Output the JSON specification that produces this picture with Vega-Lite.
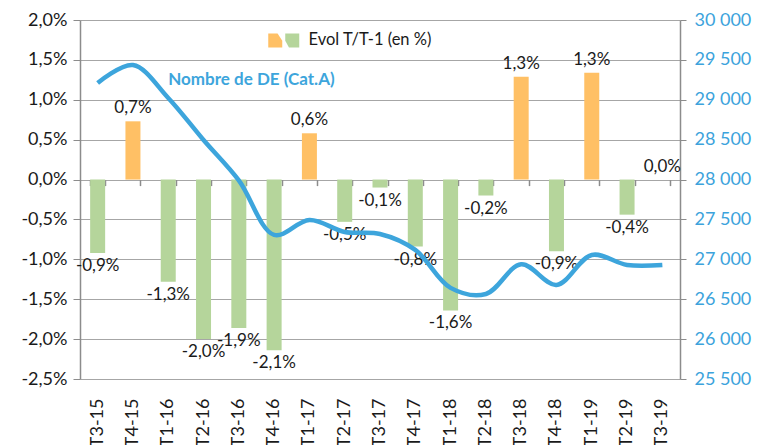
{
  "$schema": "https://vega.github.io/schema/vega-lite/v6.json",
  "width": 600,
  "height": 359,
  "autosize": "none",
  "padding": {"left": 80, "top": 20, "right": 80, "bottom": 66},
  "background": "white",
  "config": {
    "locale": {"number": {"decimal": ",", "thousands": " ", "grouping": [3], "currency": ["", " €"], "minus": "-"}},
    "view": {"stroke": null},
    "font": "Lato",
    "axis": {"labelFont": "Lato", "domainColor": "#8c8c8c", "tickColor": "#8c8c8c", "gridColor": "#a6a6a6"},
    "legend": {"labelFont": "Lato"}
  },
  "data": {
    "values": [
      {"t": "T3-15", "evol": -0.0092, "de": 29211, "sens": "hausse_baisse_b"},
      {"t": "T4-15", "evol": 0.0073, "de": 29436, "sens": "hausse_baisse_a"},
      {"t": "T1-16", "evol": -0.0128, "de": 29023, "sens": "hausse_baisse_b"},
      {"t": "T2-16", "evol": -0.0200, "de": 28496, "sens": "hausse_baisse_b"},
      {"t": "T3-16", "evol": -0.0186, "de": 27990, "sens": "hausse_baisse_b"},
      {"t": "T4-16", "evol": -0.0214, "de": 27306, "sens": "hausse_baisse_b"},
      {"t": "T1-17", "evol": 0.0058, "de": 27494, "sens": "hausse_baisse_a"},
      {"t": "T2-17", "evol": -0.0053, "de": 27343, "sens": "hausse_baisse_b"},
      {"t": "T3-17", "evol": -0.0010, "de": 27318, "sens": "hausse_baisse_b"},
      {"t": "T4-17", "evol": -0.0084, "de": 27118, "sens": "hausse_baisse_b"},
      {"t": "T1-18", "evol": -0.0164, "de": 26642, "sens": "hausse_baisse_b"},
      {"t": "T2-18", "evol": -0.0020, "de": 26566, "sens": "hausse_baisse_b"},
      {"t": "T3-18", "evol": 0.0129, "de": 26938, "sens": "hausse_baisse_a"},
      {"t": "T4-18", "evol": -0.0090, "de": 26679, "sens": "hausse_baisse_b"},
      {"t": "T1-19", "evol": 0.0134, "de": 27055, "sens": "hausse_baisse_a"},
      {"t": "T2-19", "evol": -0.0044, "de": 26930, "sens": "hausse_baisse_b"},
      {"t": "T3-19", "evol": 0.0000, "de": 26930, "sens": "hausse_baisse_a"}
    ]
  },
  "layer": [
    {
      "encoding": {
        "x": {
          "field": "t", "type": "ordinal", "sort": null,
          "scale": {"paddingInner": 0.575, "paddingOuter": 0.2875},
          "axis": {"orient": "bottom", "title": null, "labelAngle": -90, "labelFontSize": 18, "labelColor": "#1a1a1a", "labelPadding": 19, "ticks": false, "domain": false}
        },
        "y": {
          "field": "evol", "type": "quantitative",
          "scale": {"domain": [-0.025, 0.02], "nice": false, "zero": false},
          "axis": {"orient": "left", "title": null, "values": [-0.025, -0.02, -0.015, -0.01, -0.005, 0, 0.005, 0.01, 0.015, 0.02], "format": ".1%", "labelFontSize": 18, "labelColor": "#1a1a1a", "tickSize": 7, "labelPadding": 6, "grid": true, "gridWidth": 1.2, "domainWidth": 1.5}
        }
      },
      "layer": [
        {
          "mark": {"type": "bar"},
          "encoding": {
            "color": {
              "field": "sens", "type": "nominal",
              "scale": {"domain": ["hausse_baisse_a", "hausse_baisse_b"], "range": ["#FFC065", "#B5D59B"]},
              "legend": {
                "orient": "none", "legendX": 187, "legendY": 12, "direction": "horizontal", "title": null,
                "symbolSize": 196, "symbolStrokeWidth": 0, "columnPadding": 0, "labelOffset": 0,
                "labelFontSize": 16.5, "labelColor": "#1a1a1a",
                "labelExpr": "datum.value === 'hausse_baisse_a' ? '' : 'Evol T/T-1 (en %)'",
                "encode": {
                  "symbols": {"update": {"shape": {"signal": "datum.value === 'hausse_baisse_a' ? 'M-1,-1L0.333,-1L1,0.05L1,1L-1,1Z' : 'M-1,-1L1,-1L1,1L-0.467,1L-1,0.05Z'"}}},
                  "labels": {"update": {"dx": {"signal": "datum.value === 'hausse_baisse_a' ? 0 : 8"}}}
                }
              }
            }
          }
        },
        {
          "transform": [{"filter": "datum.evol >= 0"}],
          "mark": {"type": "text", "baseline": "bottom", "dy": -4, "fontSize": 17, "color": "#1a1a1a"},
          "encoding": {"text": {"field": "evol", "type": "quantitative", "format": ".1%"}}
        },
        {
          "transform": [{"filter": "datum.evol < 0"}],
          "mark": {"type": "text", "baseline": "top", "dy": 5, "fontSize": 17, "color": "#1a1a1a"},
          "encoding": {"text": {"field": "evol", "type": "quantitative", "format": ".1%"}}
        }
      ]
    },
    {
      "encoding": {
        "x": {
          "field": "t", "type": "ordinal", "sort": null,
          "axis": {"orient": "top", "title": null, "offset": -159.6, "labels": false, "domain": false, "ticks": true, "tickBand": "extent", "tickSize": -6, "tickWidth": 1.5}
        },
        "y": {
          "field": "de", "type": "quantitative",
          "scale": {"domain": [25500, 30000], "nice": false, "zero": false},
          "axis": {"orient": "right", "title": null, "values": [25500, 26000, 26500, 27000, 27500, 28000, 28500, 29000, 29500, 30000], "format": ",d", "labelFontSize": 18, "labelColor": "#3CA3DC", "tickSize": 6, "labelPadding": 8, "grid": false, "domainWidth": 1.5}
        }
      },
      "layer": [
        {
          "mark": {"type": "line", "interpolate": "catmull-rom", "strokeWidth": 4.5, "color": "#3DA5DC"}
        },
        {
          "data": {"values": [{"t": "T1-16", "de": 29250, "lab": "Nombre de DE (Cat.A)"}]},
          "mark": {"type": "text", "align": "left", "baseline": "middle", "fontSize": 17, "fontWeight": "bold", "color": "#3DA5DC"},
          "encoding": {"text": {"field": "lab", "type": "nominal"}}
        }
      ]
    }
  ],
  "resolve": {"scale": {"y": "independent"}, "axis": {"x": "independent"}}
}
